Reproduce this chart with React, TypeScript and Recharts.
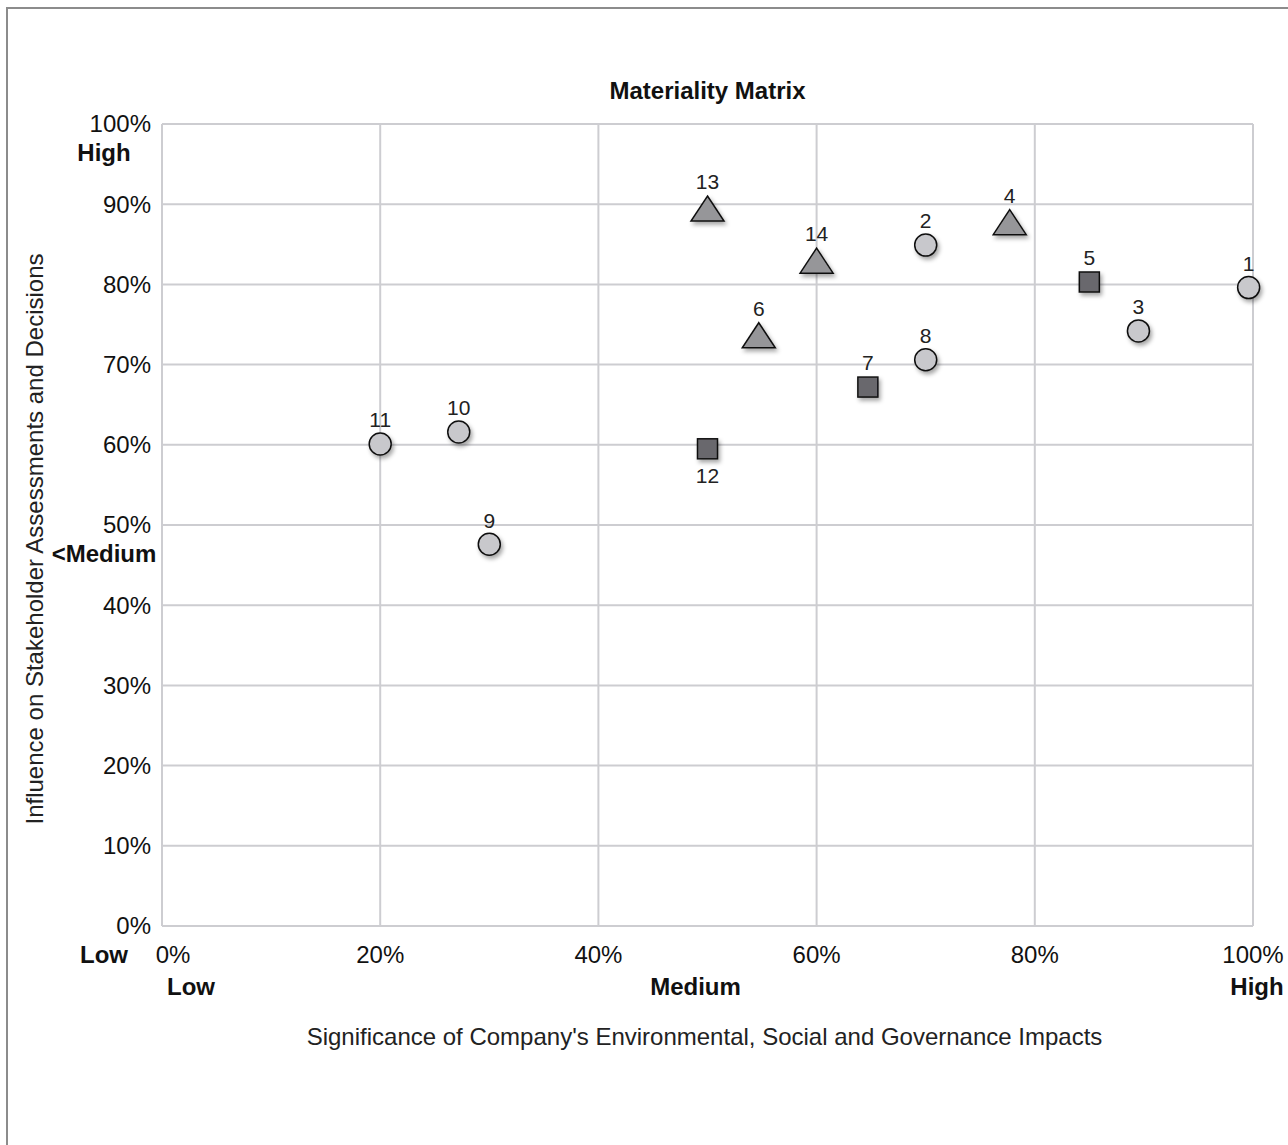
import { ScatterChart, Scatter, XAxis, YAxis, CartesianGrid, ReferenceLine } from "recharts";

// issue id, x = significance of impacts (%), y = stakeholder influence (%)
const circleIssues = [
  { id: 1, x: 99.6, y: 79.6 },
  { id: 2, x: 70.0, y: 84.9 },
  { id: 3, x: 89.5, y: 74.2 },
  { id: 8, x: 70.0, y: 70.6 },
  { id: 9, x: 30.0, y: 47.6 },
  { id: 10, x: 27.2, y: 61.6 },
  { id: 11, x: 20.0, y: 60.1 },
];

const triangleIssues = [
  { id: 4, x: 77.7, y: 87.7 },
  { id: 6, x: 54.7, y: 73.6 },
  { id: 13, x: 50.0, y: 89.4 },
  { id: 14, x: 60.0, y: 82.9 },
];

const squareIssues = [
  { id: 5, x: 85.0, y: 80.3 },
  { id: 7, x: 64.7, y: 67.2 },
  { id: 12, x: 50.0, y: 59.5 },
];

// labels that go under the marker instead of above it
const labelsBelow = [12];

const xTicks = [0, 20, 40, 60, 80, 100];
const yTicks = [0, 10, 20, 30, 40, 50, 60, 70, 80, 90, 100];
const yNotes: Record<number, string> = { 100: "High", 50: "<Medium", 0: "Low" };
const xNotes: Record<number, string> = { 0: "Low", 100: "High" };

const FONT = "'Liberation Sans', Arial, Helvetica, sans-serif";
const GRID = "#cdcdd1";
const INK = "#111";
const FS = 24;

const numLabel = (cx: number, cy: number, id: number, up: number, down: number) => {
  const below = labelsBelow.includes(id);
  return (
    <text
      x={cx}
      y={below ? cy + down : cy - up}
      dy="0.35em"
      textAnchor="middle"
      fontSize={21}
      fontFamily={FONT}
      fill="#222"
    >
      {id}
    </text>
  );
};

const CircleMark = (props: any) => {
  const { cx, cy, payload } = props;
  return (
    <g>
      <circle cx={cx} cy={cy} r={11} fill="#c8c8cc" stroke={INK} strokeWidth={1.5} filter="url(#dropShadow)" />
      {numLabel(cx, cy, payload.id, 24, 27)}
    </g>
  );
};

const TriangleMark = (props: any) => {
  const { cx, cy, payload } = props;
  const pts = `${cx},${cy - 13} ${cx + 16.5},${cy + 12} ${cx - 16.5},${cy + 12}`;
  return (
    <g>
      <polygon points={pts} fill="#969699" stroke={INK} strokeWidth={1.5} strokeLinejoin="miter" filter="url(#dropShadow)" />
      {numLabel(cx, cy, payload.id, 27, 27)}
    </g>
  );
};

const SquareMark = (props: any) => {
  const { cx, cy, payload } = props;
  return (
    <g>
      <rect x={cx - 10} y={cy - 10} width={20} height={20} fill="#69686d" stroke={INK} strokeWidth={1.5} filter="url(#dropShadow)" />
      {numLabel(cx, cy, payload.id, 24, 27)}
    </g>
  );
};

const YTick = (props: any) => {
  const { x, y, payload } = props;
  const note = yNotes[payload.value];
  return (
    <g fontFamily={FONT} fill={INK}>
      <text x={x} y={y} dy="0.35em" textAnchor="end" fontSize={FS}>
        {payload.value}%
      </text>
      {note && (
        <text x={x - 47} y={y + 29} dy="0.35em" textAnchor="middle" fontSize={FS} fontWeight="bold">
          {note}
        </text>
      )}
    </g>
  );
};

const XTick = (props: any) => {
  const { x, y, payload } = props;
  const v = payload.value;
  const note = xNotes[v];
  const shift = v === 0 ? 11 : 0;
  const noteShift = v === 0 ? 29 : 4;
  return (
    <g fontFamily={FONT} fill={INK}>
      <text x={x + shift} y={y + 29} dy="0.35em" textAnchor="middle" fontSize={FS}>
        {v}%
      </text>
      {note && (
        <text x={x + noteShift} y={y + 61} dy="0.35em" textAnchor="middle" fontSize={FS} fontWeight="bold">
          {note}
        </text>
      )}
    </g>
  );
};

const MediumNote = (props: any) => {
  const { x, y, height } = props.viewBox;
  return (
    <text x={x - 12} y={y + height + 61} dy="0.35em" textAnchor="middle" fontSize={FS} fontWeight="bold" fontFamily={FONT} fill={INK}>
      Medium
    </text>
  );
};

const YTitle = (props: any) => {
  const { x, y, height } = props.viewBox;
  const tx = x + 35;
  const ty = y + height / 2 + 14;
  return (
    <text x={tx} y={ty} dy="0.35em" textAnchor="middle" fontSize={FS} fontFamily={FONT} fill="#222" transform={`rotate(-90, ${tx}, ${ty})`}>
      Influence on Stakeholder Assessments and Decisions
    </text>
  );
};

const XTitle = (props: any) => {
  const { x, y, width } = props.viewBox;
  return (
    <text x={x + width / 2 - 3} y={y + 111} dy="0.35em" textAnchor="middle" fontSize={FS} fontFamily={FONT} fill="#222">
      Significance of Company's Environmental, Social and Governance Impacts
    </text>
  );
};

export default function App() {
  return (
    <div style={{ position: "absolute", left: 0, top: 0, width: 1288, height: 1145, background: "#fff", overflow: "hidden" }}>
      <style>{`body{margin:0;overflow:hidden}`}</style>
      <svg width={0} height={0} style={{ position: "absolute" }}>
        <defs>
          <filter id="dropShadow" x="-50%" y="-50%" width="200%" height="200%">
            <feDropShadow dx={2} dy={3} stdDeviation={2} floodColor="#000" floodOpacity={0.35} />
          </filter>
        </defs>
      </svg>
      <div
        style={{
          position: "absolute",
          left: 6,
          top: 7,
          width: 1400,
          height: 1300,
          borderLeft: "2px solid #8c8c8c",
          borderTop: "2px solid #8c8c8c",
        }}
      />
      <div
        style={{
          position: "absolute",
          left: 162,
          width: 1091,
          top: 77,
          textAlign: "center",
          fontFamily: FONT,
          fontWeight: "bold",
          fontSize: FS,
          color: INK,
        }}
      >
        Materiality Matrix
      </div>
      <div style={{ position: "absolute", left: 0, top: 0 }}>
        <ScatterChart width={1288} height={1145} margin={{ top: 124, right: 35, bottom: 119, left: 0 }}>
          <CartesianGrid stroke={GRID} strokeWidth={2} />
          <XAxis
            type="number"
            dataKey="x"
            domain={[0, 100]}
            ticks={xTicks}
            height={100}
            axisLine={false}
            tickLine={false}
            tickSize={0}
            tickMargin={0}
            tick={<XTick />}
            interval={0}
            label={{ content: <XTitle /> }}
          />
          <YAxis
            type="number"
            dataKey="y"
            domain={[0, 100]}
            ticks={yTicks}
            width={162}
            axisLine={false}
            tickLine={false}
            tickSize={0}
            tickMargin={11}
            tick={<YTick />}
            interval={0}
            label={{ content: <YTitle /> }}
          />
          <ReferenceLine x={50} stroke="none" label={{ content: <MediumNote /> }} />
          <Scatter data={circleIssues} shape={<CircleMark />} isAnimationActive={false} />
          <Scatter data={triangleIssues} shape={<TriangleMark />} isAnimationActive={false} />
          <Scatter data={squareIssues} shape={<SquareMark />} isAnimationActive={false} />
        </ScatterChart>
      </div>
    </div>
  );
}
